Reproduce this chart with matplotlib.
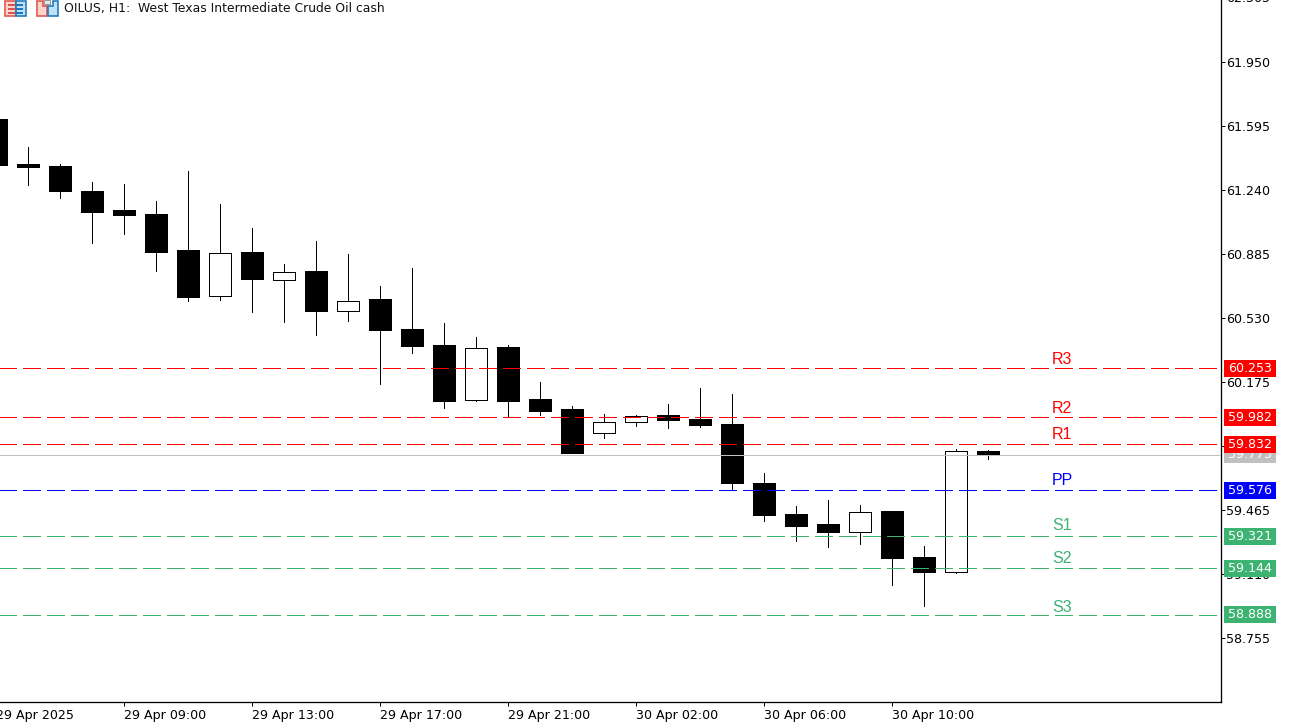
import matplotlib
matplotlib.use("Agg")
import matplotlib.pyplot as plt
from matplotlib.patches import Rectangle, Polygon
from matplotlib.transforms import blended_transform_factory

plt.rcParams['lines.scale_dashes'] = False
plt.rcParams['font.family'] = ['DejaVu Sans']

# OHLC values (bars 0..31, hourly)
opens = [61.632, 61.383, 61.372, 61.233, 61.128, 61.106, 60.906, 60.655, 60.895, 60.744, 60.790, 60.572,
         60.635, 60.468, 60.380, 60.077, 60.369, 60.080, 60.025, 59.894, 59.955, 59.992, 59.970, 59.942,
         59.615, 59.443, 59.388, 59.345, 59.460, 59.205, 59.123, 59.792]
highs = [61.632, 61.477, 61.383, 61.283, 61.272, 61.178, 61.344, 61.161, 61.028, 60.829, 60.956, 60.884,
         60.707, 60.807, 60.502, 60.424, 60.380, 60.175, 60.042, 59.997, 59.992, 60.053, 60.141, 60.108,
         59.670, 59.487, 59.521, 59.493, 59.460, 59.266, 59.803, 59.798]
lows = [61.379, 61.268, 61.195, 60.945, 60.995, 60.790, 60.625, 60.631, 60.564, 60.509, 60.437, 60.514,
        60.164, 60.337, 60.031, 60.069, 59.986, 59.992, 59.781, 59.864, 59.931, 59.920, 59.925, 59.582,
        59.404, 59.293, 59.260, 59.277, 59.049, 58.933, 59.116, 59.748]
closes = [61.379, 61.366, 61.233, 61.117, 61.100, 60.895, 60.647, 60.894, 60.746, 60.788, 60.568, 60.628,
          60.463, 60.374, 60.069, 60.367, 60.069, 60.014, 59.781, 59.957, 59.990, 59.964, 59.936, 59.615,
          59.437, 59.376, 59.343, 59.458, 59.199, 59.122, 59.796, 59.770]

level_names = ["R3", "R2", "R1", "PP", "S1", "S2", "S3"]
level_values = [60.253, 59.982, 59.832, 59.576, 59.321, 59.144, 58.888]
level_label_y = [60.302, 60.030, 59.886, 59.631, 59.381, 59.196, 58.927]
level_colors = ["#FF0000", "#FF0000", "#FF0000", "#0000FF", "#3CB371", "#3CB371", "#3CB371"]
last_price = 59.773

y_ticks = [61.950, 61.595, 61.240, 60.885, 60.530, 60.175, 59.820, 59.465, 59.110, 58.755]
y_tick_labels = ["61.950", "61.595", "61.240", "60.885", "60.530", "60.175", "59.820", "59.465", "59.110", "58.755"]
clipped_top_tick = 62.305
x_tick_bars = [0, 4, 8, 12, 16, 20, 24, 28]
x_tick_labels = ["29 Apr 2025", "29 Apr 09:00", "29 Apr 13:00", "29 Apr 17:00", "29 Apr 21:00",
                 "30 Apr 02:00", "30 Apr 06:00", "30 Apr 10:00"]
title = "OILUS, H1:  West Texas Intermediate Crude Oil cash"

W, H = 1291, 724
PX = 0.72  # one pixel in points
FS = 9.05
AX_W, AX_H = 1221.0, 702.0
fig = plt.figure(figsize=(W / 100, H / 100), dpi=100, facecolor="white")
ax = fig.add_axes([0, (H - AX_H) / H, AX_W / W, AX_H / H])
ax.set_xlim(0.125, 0.125 + AX_W / 32)
ax.set_ylim(58.4030, 62.2943)
for s in ("top", "left"):
    ax.spines[s].set_visible(False)
for s in ("right", "bottom"):
    ax.spines[s].set_linewidth(PX * 1.3)
    ax.spines[s].set_color("black")

# candles
for i, (o, h, l, c) in enumerate(zip(opens, highs, lows, closes)):
    ax.plot([i, i], [l, h], color="black", lw=PX, solid_capstyle="butt", zorder=3,
            antialiased=False, snap=True)
    up = c > o
    ax.bar(i, abs(c - o), bottom=min(o, c), width=22 / 32,
           facecolor="white" if up else "black", edgecolor="black", linewidth=PX, zorder=3,
           antialiased=False, snap=True)

# levels
ax.plot([0, 38.3], [last_price, last_price], color="#C0C0C0", lw=PX, zorder=4, antialiased=False, snap=True)
dash = (0, (18 * PX, 6 * PX))
for name, v, ly, col in zip(level_names, level_values, level_label_y, level_colors):
    ax.plot([0, 38.3], [v, v], color=col, lw=PX, ls=dash, dash_capstyle="butt", zorder=4,
            antialiased=False, snap=True)
    ax.text(33, ly, name, color=col, fontsize=11.5, family="Liberation Sans",
            ha="left", va="center", zorder=4)

# axes ticks
ax.yaxis.tick_right()
ax.set_yticks(y_ticks)
ax.set_yticklabels(y_tick_labels, fontsize=FS)
ax.tick_params(axis="y", length=3, width=PX, pad=0.4, colors="black")
ax.set_xticks(x_tick_bars[1:])
ax.set_xticklabels([])
ax.tick_params(axis="x", length=3, width=PX)
tr = blended_transform_factory(ax.transData, ax.transAxes)
for b, lab in zip(x_tick_bars, x_tick_labels):
    ax.text(b, -13 / AX_H, lab, transform=tr, ha="left", va="center", fontsize=FS, clip_on=False)
try_y = blended_transform_factory(ax.transAxes, ax.transData)
ax.text(1226 / AX_W, clipped_top_tick, "62.305", transform=try_y, ha="left", va="center", fontsize=FS, clip_on=False)

# value boxes on the price scale
def box(v, col, z):
    hh = 8.5 * 0.005543
    ax.add_patch(Rectangle((1224 / AX_W, v - hh), 52 / AX_W, 2 * hh, transform=try_y,
                           facecolor=col, edgecolor="none", clip_on=False, zorder=z))
    ax.text(1250 / AX_W, v, f"{v:.3f}", transform=try_y, color="white", fontsize=FS,
            ha="center", va="center", clip_on=False, zorder=z + 0.1)
box(last_price, "#C0C0C0", 6)
for v, col in zip(level_values, level_colors):
    box(v, col, 7)

# header
fig.text(64 / W, 1 - 8.5 / H, title, fontsize=8.92, ha="left", va="center", color="#111111")

def px_rect(x, y, w, h, fc, ec="none", lw=PX * 1.6):
    fig.add_artist(Rectangle((x / W, 1 - (y + h) / H), w / W, h / H, transform=fig.transFigure,
                             facecolor=fc, edgecolor=ec, linewidth=lw))
# left icon (two-pane list)
px_rect(5, 1, 10.5, 15, "#FBD5CC", "#E0544A")
px_rect(15.5, 1, 10.5, 15, "#BFE0F5", "#1C78BE")
for yy in (4, 8, 12):
    px_rect(8, yy, 7, 1.6, "#E0544A", lw=0)
    px_rect(16, yy, 7, 1.6, "#1C78BE", lw=0)
# right icon (two vessels)
fig.add_artist(Polygon([(37 / W, 1 - 16 / H), (37 / W, 1 - 1 / H), (43 / W, 1 - 1 / H), (43 / W, 1 - 6 / H),
                        (47 / W, 1 - 6 / H), (47 / W, 1 - 16 / H)], closed=True, transform=fig.transFigure,
                       facecolor="#FBD5CC", edgecolor="#E0544A", linewidth=PX * 1.6))
fig.add_artist(Polygon([(48 / W, 1 - 16 / H), (48 / W, 1 - 6 / H), (53 / W, 1 - 6 / H), (53 / W, 1 - 1 / H),
                        (58 / W, 1 - 1 / H), (58 / W, 1 - 16 / H)], closed=True, transform=fig.transFigure,
                       facecolor="#BFE0F5", edgecolor="#1C78BE", linewidth=PX * 1.6))
px_rect(44, 0, 6, 3.5, "#E8E8E8", "#999999", lw=PX)

# thin border at far right of the window
fig.add_artist(plt.Line2D([1290.5 / W, 1290.5 / W], [0, 1], color="#E0E0E0", lw=PX, transform=fig.transFigure))

fig.savefig("out.png", dpi=100)
